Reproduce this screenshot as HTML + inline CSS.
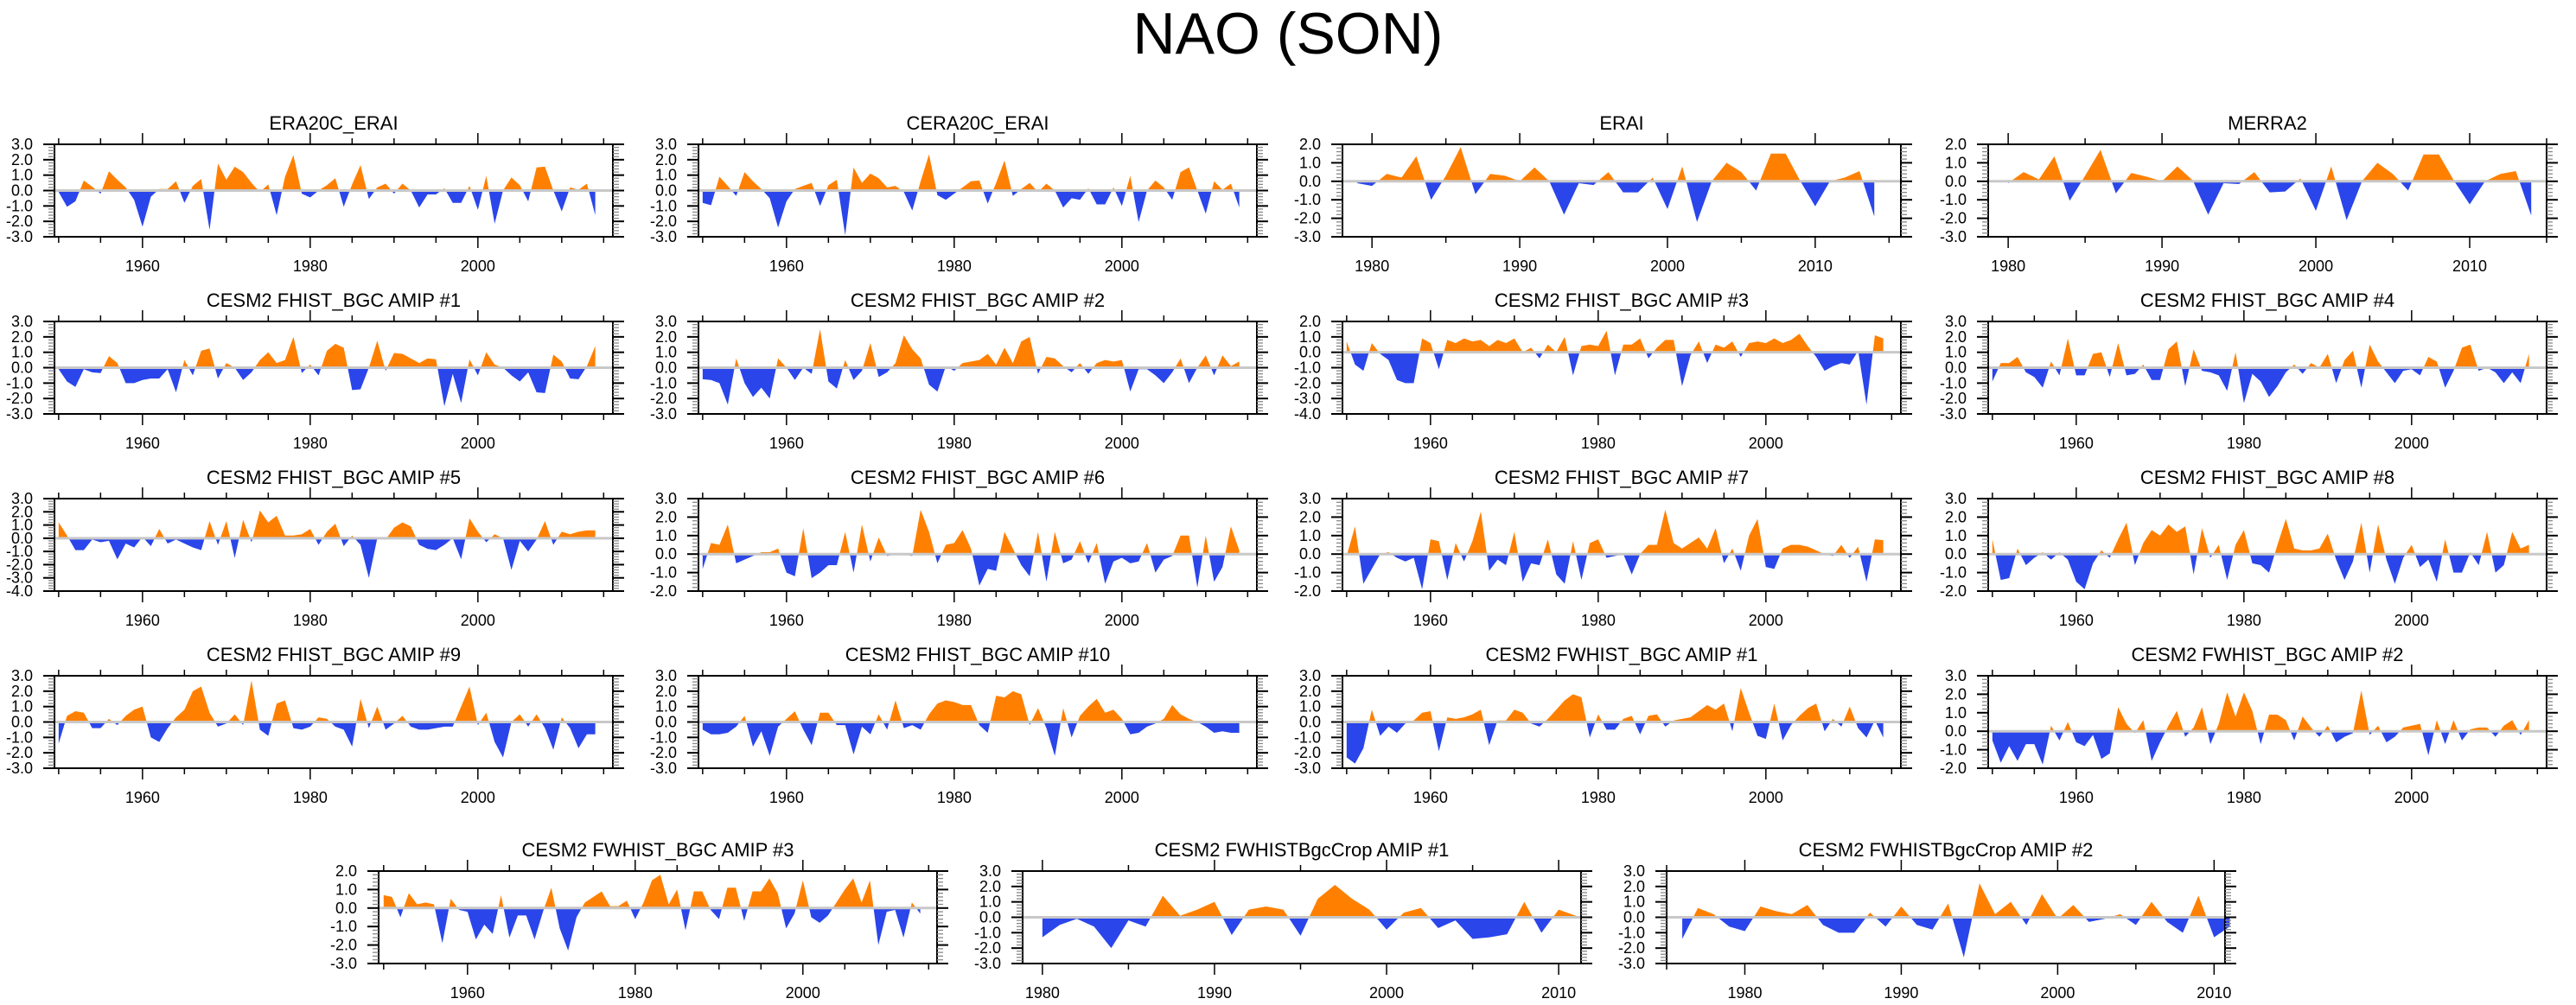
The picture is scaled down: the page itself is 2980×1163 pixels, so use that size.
<!DOCTYPE html>
<html><head><meta charset="utf-8">
<style>
html,body{margin:0;padding:0;background:#fff;}
svg{display:block;font-family:"Liberation Sans",Arial,sans-serif;}
</style></head>
<body>
<svg id="chart" width="2980" height="1163" viewBox="0 0 2980 1163" xmlns="http://www.w3.org/2000/svg">
<rect x="0" y="0" width="2980" height="1163" fill="#fff"/>
<text x="1490" y="62" text-anchor="middle" font-size="68" fill="#000">NAO (SON)</text>
<g id="panels"></g>
</svg>
<script>
const titles = ["ERA20C_ERAI","CERA20C_ERAI","ERAI","MERRA2",
"CESM2 FHIST_BGC AMIP #1","CESM2 FHIST_BGC AMIP #2","CESM2 FHIST_BGC AMIP #3","CESM2 FHIST_BGC AMIP #4",
"CESM2 FHIST_BGC AMIP #5","CESM2 FHIST_BGC AMIP #6","CESM2 FHIST_BGC AMIP #7","CESM2 FHIST_BGC AMIP #8",
"CESM2 FHIST_BGC AMIP #9","CESM2 FHIST_BGC AMIP #10","CESM2 FWHIST_BGC AMIP #1","CESM2 FWHIST_BGC AMIP #2",
"CESM2 FWHIST_BGC AMIP #3","CESM2 FWHISTBgcCrop AMIP #1","CESM2 FWHISTBgcCrop AMIP #2"];
const startYears = [1950,1950,1979,1980, 1950,1950,1950,1950, 1950,1950,1950,1950, 1950,1950,1950,1950, 1950,1980,1976];
const yMins = [-3,-3,-3,-3, -3,-3,-4,-3, -4,-2,-2,-2, -3,-3,-3,-2, -3,-3,-3];
const yMaxs = [3,3,2,2, 3,3,2,3, 3,3,3,3, 3,3,3,3, 2,3,3];

const vEra20c = [-0.1,-1.05,-0.7,0.65,0.25,-0.2,1.25,0.7,0.2,-0.6,-2.35,-0.4,0.1,0.1,0.6,-0.8,0.3,0.75,-2.55,1.75,0.7,1.55,1.2,0.5,-0.1,0.4,-1.6,0.9,2.3,-0.2,-0.45,0.0,0.35,0.8,-1.05,0.4,1.65,-0.55,0.2,0.45,-0.2,0.45,0.0,-1.1,-0.25,-0.25,0.15,-0.8,-0.8,0.3,-1.25,0.95,-2.15,0.0,0.85,0.35,-0.7,1.5,1.55,0.0,-1.35,0.2,0.05,0.45,-1.6];
const vCera20c = [-0.8,-0.95,0.9,0.3,-0.35,1.2,0.6,0.1,-0.5,-2.4,-0.7,0.1,0.3,0.5,-1.0,0.35,0.7,-2.9,1.5,0.5,1.1,0.8,0.2,0.3,-0.1,-1.3,0.6,2.35,-0.3,-0.6,-0.2,0.2,0.6,0.65,-0.85,0.5,1.95,-0.35,0.1,0.5,-0.1,0.45,0.0,-1.1,-0.5,-0.6,0.15,-0.9,-0.9,0.2,-1.0,0.95,-2.05,0.0,0.65,0.2,-0.6,1.2,1.5,0.0,-1.5,0.6,0.05,0.45,-1.1];
const vErai = [-0.1,-0.25,0.4,0.2,1.35,-1.0,0.3,1.85,-0.7,0.4,0.3,0.0,0.75,0.0,-1.8,-0.1,-0.2,0.5,-0.6,-0.6,0.2,-1.5,0.8,-2.2,0.0,1.0,0.5,-0.5,1.5,1.5,0.0,-1.35,0.0,0.2,0.55,-1.9];
const vMerra2 = [-0.1,0.5,0.1,1.35,-1.05,0.3,1.7,-0.65,0.45,0.25,0.0,0.8,0.05,-1.8,-0.1,-0.15,0.5,-0.6,-0.55,0.15,-1.6,0.8,-2.1,0.0,1.0,0.4,-0.5,1.45,1.45,0.0,-1.25,0.0,0.4,0.55,-1.85];
const vFh1 = [-0.1,-0.9,-1.25,-0.1,-0.3,-0.35,0.75,0.3,-1.0,-1.0,-0.8,-0.7,-0.7,-0.1,-1.6,0.5,-0.5,1.1,1.25,-0.7,0.3,0.0,-0.8,-0.3,0.5,1.0,0.3,0.5,2.0,-0.35,0.2,-0.5,1.1,1.55,1.3,-1.45,-1.4,0.0,1.75,-0.2,0.95,0.9,0.6,0.3,0.6,0.55,-2.5,-0.4,-2.3,0.55,-0.5,1.0,0.2,0.0,-0.5,-0.9,-0.3,-1.6,-1.65,0.85,0.4,-0.7,-0.75,0.1,1.4];
const vFh2 = [-0.75,-0.8,-1.0,-2.4,0.6,-1.0,-1.9,-1.3,-2.0,0.6,0.0,-0.8,0.0,-0.4,2.5,-0.9,-1.35,0.5,-0.8,-0.2,1.6,-0.6,-0.3,0.3,2.1,1.2,0.6,-1.1,-1.55,0.1,-0.2,0.3,0.4,0.5,0.9,0.2,1.3,0.3,1.7,2.0,-0.4,0.7,0.6,0.1,-0.3,0.3,-0.4,0.3,0.5,0.4,0.5,-1.55,-0.1,-0.1,-0.5,-1.0,-0.3,0.6,-1.0,0.0,0.8,-0.5,0.8,0.1,0.4];
const vFh3 = [0.7,-0.8,-1.2,0.6,-0.1,-0.5,-1.8,-2.0,-2.0,0.9,0.6,-1.1,0.8,0.6,0.9,0.7,0.8,0.4,0.8,0.6,0.9,0.0,0.3,-0.4,0.5,0.0,1.0,-1.5,0.4,0.5,0.4,1.4,-1.5,0.5,0.5,0.9,-0.4,0.3,0.8,0.8,-2.2,-0.2,0.7,-0.7,0.5,0.3,0.7,-0.3,0.6,0.7,0.6,0.9,0.6,0.8,1.2,0.4,-0.3,-1.2,-0.9,-0.7,-0.8,0.1,-3.4,1.1,0.9];
const vFh4 = [-0.9,0.3,0.3,0.7,-0.3,-0.6,-1.3,0.4,-0.5,1.9,-0.5,-0.5,0.9,1.0,-0.6,1.6,-0.5,-0.4,0.2,-0.8,-0.8,1.2,1.7,-1.2,1.2,-0.2,-0.3,-0.5,-1.5,1.0,-2.3,-0.4,-0.9,-1.9,-1.2,-0.3,0.2,-0.4,0.3,0.0,0.9,-1.0,0.5,1.1,-1.3,1.5,0.4,-0.3,-1.0,-0.2,-0.1,-0.5,0.7,0.4,-1.3,-0.2,1.3,1.5,-0.2,0.0,-0.3,-1.0,-0.3,-1.0,0.9];
const vFh5 = [1.2,0.2,-0.9,-0.9,-0.1,-0.3,-0.2,-1.6,-0.4,-0.7,0.1,-0.6,0.7,-0.4,-0.1,-0.4,-0.7,-0.9,1.3,-0.5,1.3,-1.5,1.4,-0.3,2.1,1.2,1.7,0.2,0.2,0.3,0.7,-0.5,0.5,1.1,-0.6,0.2,-0.5,-3.0,0.0,-0.1,0.8,1.2,0.9,-0.5,-0.8,-0.9,-0.5,0.0,-1.6,1.5,0.5,-0.3,0.3,0.0,-2.4,-0.2,-1.0,-0.1,1.3,-0.5,0.5,0.3,0.5,0.6,0.6];
const vFh6 = [-0.8,0.6,0.5,1.6,-0.5,-0.3,-0.1,0.1,0.1,0.3,-1.0,-1.2,1.4,-1.3,-1.0,-0.6,-0.6,1.2,-1.0,1.6,-0.4,0.9,-0.1,0.0,0.0,-0.1,2.4,1.2,-0.5,0.5,0.6,1.3,0.3,-1.7,-0.8,-0.9,1.2,0.3,-0.6,-1.2,1.2,-1.5,1.2,-0.5,-0.3,0.7,-0.5,0.6,-1.6,-0.4,-0.2,-0.5,-0.4,0.6,-1.0,-0.3,-0.1,1.0,1.0,-1.8,1.0,-1.5,-0.7,1.5,0.2];
const vFh7 = [-0.1,1.5,-1.6,-0.8,0.0,0.1,-0.2,-0.4,-0.2,-1.9,0.8,0.7,-1.4,0.6,-0.4,0.7,2.3,-0.9,-0.3,-0.6,1.2,-1.5,-0.5,-0.6,0.8,-1.1,-1.6,0.7,-1.4,0.6,0.8,-0.2,-0.1,0.0,-1.1,0.0,0.5,0.5,2.4,0.6,0.3,0.6,0.9,0.3,1.4,-0.5,0.3,-0.9,1.0,1.9,-0.7,-0.8,0.3,0.5,0.5,0.4,0.2,0.0,-0.1,0.5,-0.2,0.4,-1.5,0.8,0.75];
const vFh8 = [0.8,-1.4,-1.3,0.3,-0.6,-0.2,0.1,-0.3,0.1,-0.3,-1.5,-1.9,-0.5,0.2,-0.2,0.8,1.7,-0.6,0.6,1.3,1.0,1.6,1.2,1.5,-1.1,1.4,-0.2,0.5,-1.4,0.5,1.3,-0.5,-0.6,-1.0,0.5,1.9,0.3,0.2,0.2,0.3,1.1,-0.3,-1.4,-0.4,1.7,-1.0,1.6,-0.3,-1.6,-0.2,0.5,-0.7,-0.3,-1.5,0.8,-1.0,-1.0,0.1,-0.6,1.2,-1.0,-0.6,1.2,0.3,0.5];
const vFh9 = [-1.4,0.4,0.7,0.6,-0.4,-0.4,0.2,-0.2,0.4,0.8,1.0,-1.0,-1.3,-0.4,0.3,0.8,2.0,2.3,0.6,-0.3,-0.1,0.5,-0.2,2.7,-0.5,-0.9,1.2,1.4,-0.4,-0.5,-0.3,0.3,0.2,-0.3,-0.5,-1.6,1.5,-0.4,1.0,-0.5,-0.1,0.4,-0.3,-0.5,-0.5,-0.4,-0.3,-0.3,1.0,2.3,-0.2,0.6,-1.3,-2.3,0.0,0.5,-0.3,0.5,-0.4,-1.8,0.3,-0.4,-1.7,-0.8,-0.8];
const vFh10 = [-0.5,-0.8,-0.8,-0.7,-0.3,0.4,-1.6,-0.6,-2.2,-0.3,0.2,0.7,-0.5,-1.5,0.6,0.6,-0.2,-0.2,-2.1,-0.3,-0.8,0.5,-0.5,1.4,-0.4,-0.2,-0.5,0.5,1.2,1.4,1.3,1.1,1.1,-0.2,-0.7,1.7,1.6,2.0,1.8,-0.2,0.9,-0.4,-2.2,0.9,-1.0,0.4,1.0,1.5,0.6,0.8,0.2,-0.8,-0.7,-0.3,-0.1,0.2,1.1,0.5,0.2,0.0,-0.3,-0.7,-0.6,-0.7,-0.7];
const vFw1 = [-2.3,-2.7,-1.7,0.8,-0.9,-0.3,-0.7,-0.1,0.1,0.6,0.7,-1.9,0.3,0.2,0.3,0.5,0.8,-1.5,0.1,0.1,0.8,0.6,-0.1,-0.3,0.2,0.8,1.4,1.8,1.6,-1.0,0.5,-0.5,-0.5,0.2,0.4,-0.8,0.4,0.5,-0.3,0.1,0.2,0.3,0.7,1.1,0.8,1.2,-0.6,2.2,0.6,-0.9,-1.1,1.2,-1.2,-0.2,0.4,0.9,1.2,-0.6,0.2,-0.3,1.0,-0.4,-1.0,0.1,-1.0];
const vFw2 = [-0.5,-1.7,-0.8,-1.6,-0.7,-0.7,-1.8,0.3,-0.5,0.5,-0.6,-0.8,-0.2,-1.5,-1.2,1.3,0.4,-0.1,0.6,-1.6,-0.6,0.3,1.1,-0.3,0.2,1.3,-0.7,0.4,2.1,0.8,2.1,1.1,-0.7,0.9,0.9,0.6,-0.5,0.8,0.2,-0.3,0.3,-0.6,-0.3,-0.1,2.2,-0.2,0.3,-0.6,-0.3,0.2,0.3,0.4,-1.3,0.6,-0.7,0.6,-0.5,0.1,0.2,0.2,-0.3,0.3,0.6,-0.2,0.6];
const vFw3 = [0.7,0.6,-0.5,0.8,0.2,0.3,0.2,-1.9,0.5,-0.1,-0.2,-1.7,-0.9,-1.4,0.7,-1.6,-0.4,-0.4,-1.7,-0.2,1.1,-1.1,-2.3,-0.5,0.3,0.6,0.9,0.1,0.1,0.4,-0.6,0.3,1.5,1.8,0.2,1.0,-1.2,0.9,0.9,-0.1,-0.6,1.1,1.1,-0.7,0.9,0.9,1.6,0.8,-1.1,-0.3,1.5,-0.5,-0.8,-0.4,0.3,1.0,1.6,0.3,1.5,-2.0,-0.2,-0.1,-1.6,0.3,-0.3];
const vCrop1 = [-1.3,-0.5,-0.1,-0.6,-2.0,-0.2,-0.6,1.4,0.1,0.5,1.0,-1.15,0.5,0.7,0.5,-1.2,1.2,2.1,1.2,0.5,-0.8,0.3,0.6,-0.7,-0.2,-1.4,-1.3,-1.1,1.0,-1.0,0.5,0.1];
const vCrop2 = [-1.4,0.6,0.2,-0.6,-0.9,0.7,0.4,0.2,0.8,-0.5,-1.0,-1.0,0.3,-0.6,0.7,-0.5,-0.8,0.9,-2.6,2.2,0.2,1.0,-0.5,1.5,-0.1,0.8,-0.3,-0.1,0.2,-0.5,1.0,-0.3,-1.0,1.4,-1.3,-0.6];

const seriesValues = [vEra20c,vCera20c,vErai,vMerra2,vFh1,vFh2,vFh3,vFh4,vFh5,vFh6,vFh7,vFh8,vFh9,vFh10,vFw1,vFw2,vFw3,vCrop1,vCrop2];

// layout (pixels, not data)
const BOXW = 646, BOXH = 107;
const rowTops = [167,372,577,782,1008];
const colLefts = [63,808,1553,2300];
const row5Lefts = [438,1183,1928];
const xRanges = [[1949.5,2016.1],[1949.5,2016.1],[1978,2015.8],[1978.7,2015.0],
 [1949.5,2016.1],[1949.5,2016.1],[1949.5,2016.1],[1949.5,2016.1],
 [1949.5,2016.1],[1949.5,2016.1],[1949.5,2016.1],[1949.5,2016.1],
 [1949.5,2016.1],[1949.5,2016.1],[1949.5,2016.1],[1949.5,2016.1],
 [1949.4,2016.0],[1978.85,2011.3],[1975.0,2010.7]];

const NS = "http://www.w3.org/2000/svg";
const root = document.getElementById('panels');
function mk(tag, attrs, parent){
  const e = document.createElementNS(NS, tag);
  for (const k in attrs) e.setAttribute(k, attrs[k]);
  (parent||root).appendChild(e);
  return e;
}
function slug(s){return s.toLowerCase().replace(/[^a-z0-9]+/g,'-').replace(/^-|-$/g,'');}

for (let p = 0; p < titles.length; p++) {
  const left = p < 16 ? colLefts[p % 4] : row5Lefts[p - 16];
  const top = rowTops[Math.floor(p / 4)];
  const [x0, x1] = xRanges[p];
  const y0 = yMins[p], y1 = yMaxs[p];
  const xs = v => left + (v - x0) / (x1 - x0) * BOXW;
  const ys = v => top + BOXH - (v - y0) / (y1 - y0) * BOXH;
  const g = mk('g', {});
  
  

  const t = mk('text', {x: left + BOXW/2, y: top - 17, 'text-anchor':'middle', 'font-size':'22', fill:'#000'}, g);
  t.textContent = titles[p];
  
  

  const vals = seriesValues[p];
  const pts = [];
  for (let i = 0; i < vals.length; i++) {
    const yr = startYears[p] + i, v = vals[i];
    if (i > 0) {
      const pv = vals[i-1];
      if ((pv > 0 && v < 0) || (pv < 0 && v > 0)) {
        const f = pv / (pv - v);
        pts.push([yr - 1 + f, 0]);
      }
    }
    pts.push([yr, v]);
  }
  const first = pts[0][0], last = pts[pts.length-1][0];
  let dPos = 'M' + xs(first) + ',' + ys(0);
  let dNeg = dPos;
  pts.forEach(q => {
    dPos += ' L' + xs(q[0]).toFixed(2) + ',' + ys(Math.max(q[1],0)).toFixed(2);
    dNeg += ' L' + xs(q[0]).toFixed(2) + ',' + ys(Math.min(q[1],0)).toFixed(2);
  });
  dPos += ' L' + xs(last) + ',' + ys(0) + ' Z';
  dNeg += ' L' + xs(last) + ',' + ys(0) + ' Z';
  const pos = mk('path', {d: dPos, fill:'#ff8000', stroke:'none'}, g);
  
  
  const neg = mk('path', {d: dNeg, fill:'#2a45ea', stroke:'none'}, g);
  
  

  const zl = mk('line', {x1: left, x2: left + BOXW, y1: ys(0), y2: ys(0), stroke:'#c8c8c8', 'stroke-width':'3'}, g);
  
  

  const box = mk('rect', {x: left, y: top, width: BOXW, height: BOXH, fill:'none', stroke:'#000', 'stroke-width':'2'}, g);
  
  

  for (let v = y0; v <= y1 + 1e-6; v += 0.2) {
    const vv = Math.round(v * 10) / 10;
    const major = Math.abs(vv - Math.round(vv)) < 1e-6;
    const len = major ? 13 : 7;
    const col = major ? '#000' : '#888';
    const y = ys(vv);
    mk('line', {x1: left - len, x2: left, y1: y, y2: y, stroke: col, 'stroke-width': major ? 2 : 1.3}, g);
    mk('line', {x1: left + BOXW, x2: left + BOXW + len, y1: y, y2: y, stroke: col, 'stroke-width': major ? 2 : 1.3}, g);
    if (major) {
      const lab = mk('text', {x: left - 25, y: y + 6, 'text-anchor':'end', 'font-size':'18', fill:'#000'}, g);
      lab.textContent = vv.toFixed(1);
      
      
    }
  }
  const shortRange = (x1 - x0) < 45;
  const labStep = shortRange ? 10 : 20;
  for (let yr = Math.ceil(x0 / 5) * 5; yr <= x1; yr += 5) {
    const major = yr % labStep === 0;
    const len = major ? 13 : 7;
    const x = xs(yr);
    mk('line', {x1: x, x2: x, y1: top - len, y2: top, stroke:'#000', 'stroke-width':'1.5'}, g);
    mk('line', {x1: x, x2: x, y1: top + BOXH, y2: top + BOXH + len, stroke:'#000', 'stroke-width':'1.5'}, g);
    if (major) {
      const lab = mk('text', {x: x, y: top + BOXH + 40, 'text-anchor':'middle', 'font-size':'18', fill:'#000'}, g);
      lab.textContent = String(yr);
      
      
    }
  }
}
</script>
</body></html>
